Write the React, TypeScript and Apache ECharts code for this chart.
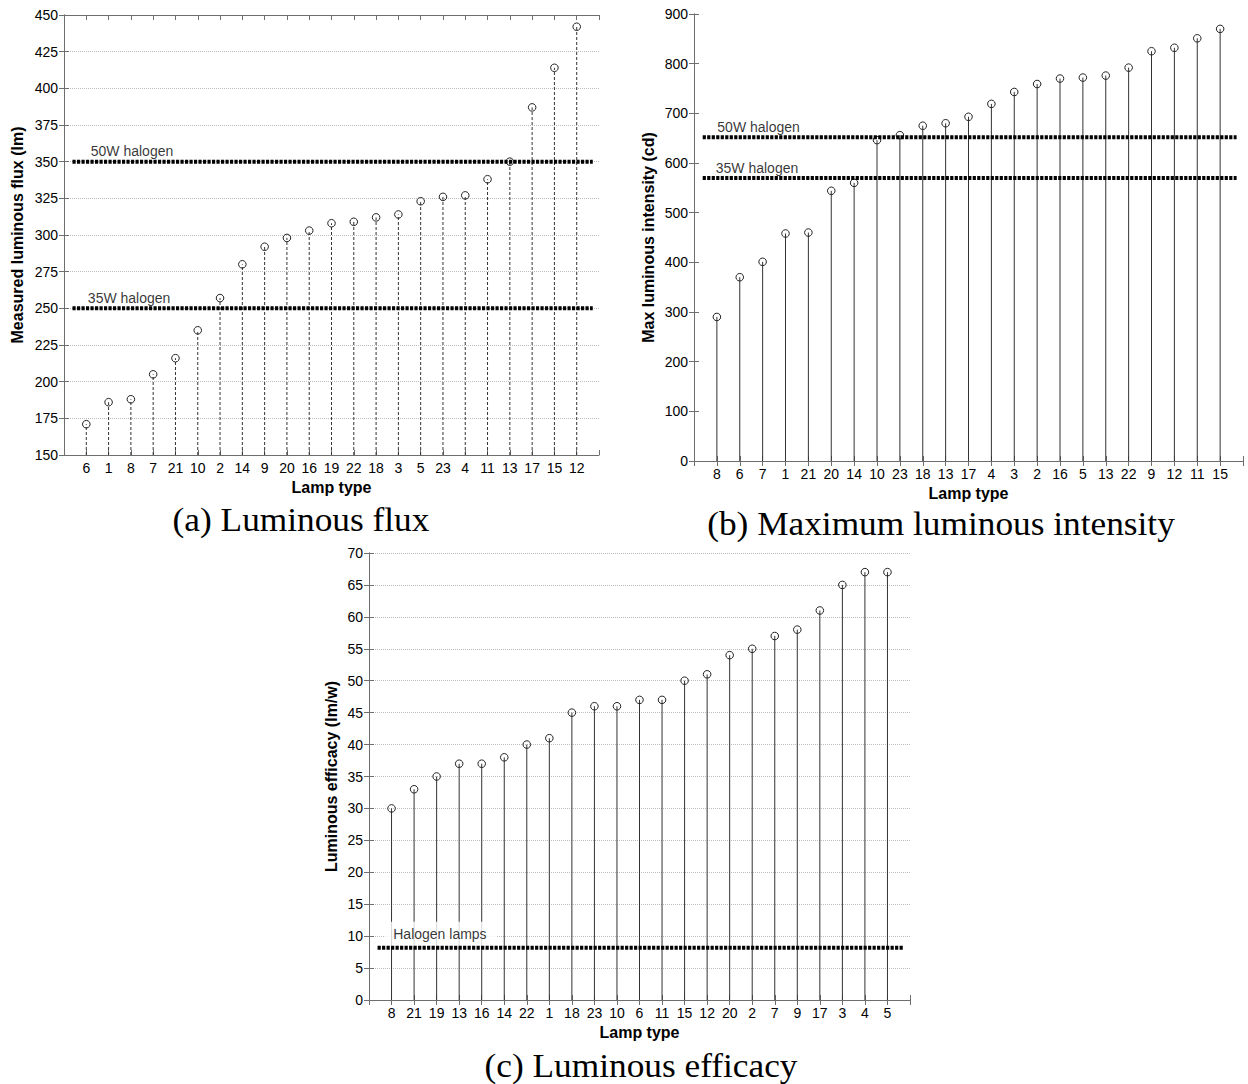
import React, { useEffect, useRef } from "react";
import * as echarts from "echarts";

// ---------- data ----------
const fluxCats = ["6","1","8","7","21","10","2","14","9","20","16","19","22","18","3","5","23","4","11","13","17","15","12"];
const fluxVals = [171,186,188,205,216,235,257,280,292,298,303,308,309,312,314,323,326,327,338,350,387,414,442];
const fluxRefs = [350, 250];
const fluxRefLabels = ["50W halogen", "35W halogen"];

const intensityCats = ["8","6","7","1","21","20","14","10","23","18","13","17","4","3","2","16","5","13","22","9","12","11","15"];
const intensityVals = [290,370,401,458,460,544,560,646,656,675,680,693,719,743,759,770,772,776,792,825,832,851,870];
const intensityRefs = [652, 570];
const intensityRefLabels = ["50W halogen", "35W halogen"];

const efficacyCats = ["8","21","19","13","16","14","22","1","18","23","10","6","11","15","12","20","2","7","9","17","3","4","5"];
const efficacyVals = [30,33,35,37,37,38,40,41,45,46,46,47,47,50,51,54,55,57,58,61,65,67,67];
const efficacyRefs = [8.2];
const efficacyRefLabels = ["Halogen lamps"];

const captions = ["(a) Luminous flux", "(b) Maximum luminous intensity", "(c) Luminous efficacy"];

// ---------- layout / style ----------
const FONT = "'Liberation Sans', Arial, Helvetica, sans-serif";
const SERIF = "'Liberation Serif', 'Times New Roman', serif";
const AXIS_COLOR = "#6e6e6e";

type Panel = {
  grid: { left: number; top: number; width: number; height: number };
  cats: string[];
  vals: number[];
  yMin: number;
  yMax: number;
  yInterval: number;
  yName: string;
  yNameGap: number;
  dashed: boolean;
  splitLines: boolean;
  refs: number[];
  refLabels: string[];
  refLabelAt: number[][]; // [x, y] in data space
  labelBg: boolean;
  caption: string;
  captionPos: number[];
};

const panels: Panel[] = [
  {
    grid: { left: 64, top: 15, width: 535, height: 440 },
    cats: fluxCats, vals: fluxVals, yMin: 150, yMax: 450, yInterval: 25,
    yName: "Measured luminous flux (lm)", yNameGap: 39,
    dashed: true, splitLines: true,
    refs: fluxRefs, refLabels: fluxRefLabels, refLabelAt: [[1.2, 357], [1.07, 257]],
    labelBg: false, caption: captions[0], captionPos: [301, 520],
  },
  {
    grid: { left: 694, top: 14, width: 549, height: 447 },
    cats: intensityCats, vals: intensityVals, yMin: 0, yMax: 900, yInterval: 100,
    yName: "Max luminous intensity (cd)", yNameGap: 38,
    dashed: false, splitLines: false,
    refs: intensityRefs, refLabels: intensityRefLabels, refLabelAt: [[1.02, 672], [0.95, 590]],
    labelBg: false, caption: captions[1], captionPos: [941, 524],
  },
  {
    grid: { left: 369, top: 553, width: 541, height: 447 },
    cats: efficacyCats, vals: efficacyVals, yMin: 0, yMax: 70, yInterval: 5,
    yName: "Luminous efficacy (lm/w)", yNameGap: 30,
    dashed: false, splitLines: true,
    refs: efficacyRefs, refLabels: efficacyRefLabels, refLabelAt: [[0.72, 10.3]],
    labelBg: true, caption: captions[2], captionPos: [641, 1066],
  },
];

const REF_X = [0.38, 23.72];

function stemRenderer(base: number, dashed: boolean) {
  return (params: any, api: any) => {
    const x = api.value(0);
    const y = api.value(1);
    const top = api.coord([x, y]);
    const bot = api.coord([x, base]);
    return {
      type: "group",
      children: [
        {
          type: "line",
          shape: { x1: top[0], y1: bot[1], x2: top[0], y2: top[1] },
          style: { stroke: "#333", lineWidth: 1, lineDash: dashed ? [3, 2] : null },
        },
        {
          type: "circle",
          shape: { cx: top[0], cy: top[1], r: 3.8 },
          style: { fill: "none", stroke: "#222", lineWidth: 1 },
        },
      ],
    };
  };
}

function buildOption() {
  const grids: any[] = [];
  const xAxes: any[] = [];
  const yAxes: any[] = [];
  const series: any[] = [];
  const graphics: any[] = [];

  panels.forEach((p, i) => {
    grids.push({ ...p.grid, outerBoundsMode: "none", containLabel: false });
    const tick = { show: true, inside: true, length: 5, lineStyle: { color: AXIS_COLOR, width: 1 } };
    const line = { show: true, lineStyle: { color: AXIS_COLOR, width: 1 } };
    const labelStyle = { color: "#000", fontSize: 14, fontFamily: FONT };
    const nameStyle = { color: "#000", fontSize: 16, fontWeight: "bold", fontFamily: FONT };

    xAxes.push({
      gridIndex: i, type: "value", position: "bottom", min: 0, max: 24, interval: 1,
      axisLine: line, axisTick: tick,
      axisLabel: {
        ...labelStyle, margin: 6,
        formatter: (v: number) => (v >= 1 && v <= p.cats.length ? p.cats[v - 1] : ""),
      },
      splitLine: { show: false },
      name: "Lamp type", nameLocation: "middle", nameGap: 24, nameTextStyle: nameStyle,
    });
    xAxes.push({
      gridIndex: i, type: "value", position: "top", min: 0, max: 24, interval: 1,
      axisLine: line, axisTick: tick, axisLabel: { show: false }, splitLine: { show: false },
    });
    yAxes.push({
      gridIndex: i, type: "value", position: "left", min: p.yMin, max: p.yMax, interval: p.yInterval,
      axisLine: line, axisTick: tick,
      axisLabel: { ...labelStyle, margin: 6 },
      splitLine: { show: p.splitLines, lineStyle: { type: "dotted", color: "#bdbdbd", width: 1 } },
      name: p.yName, nameLocation: "middle", nameGap: p.yNameGap, nameRotate: 90, nameTextStyle: nameStyle,
    });
    yAxes.push({
      gridIndex: i, type: "value", position: "right", min: p.yMin, max: p.yMax, interval: p.yInterval,
      axisLine: line, axisTick: tick, axisLabel: { show: false }, splitLine: { show: false },
    });

    const xi = i * 2;
    series.push({
      type: "custom",
      xAxisIndex: xi, yAxisIndex: xi,
      data: p.vals.map((v, k) => [k + 1, v]),
      encode: { x: 0, y: 1 },
      renderItem: stemRenderer(p.yMin, p.dashed),
      z: 2, silent: true,
    });
    p.refs.forEach((r) => {
      series.push({
        type: "line",
        xAxisIndex: xi, yAxisIndex: xi,
        data: [[REF_X[0], r], [REF_X[1], r]],
        symbol: "none",
        lineStyle: { color: "#000", width: 4, type: [3.2, 1.3], cap: "butt" },
        z: 5, silent: true,
      });
    });
    series.push({
      type: "scatter",
      xAxisIndex: xi, yAxisIndex: xi,
      symbol: "circle", symbolSize: 0,
      data: p.refLabels.map((t, k) => ({ name: t, value: p.refLabelAt[k] })),
      label: {
        show: true, position: "right", distance: 0, formatter: "{b}",
        color: "#000", fontSize: 14, fontFamily: FONT,
        backgroundColor: p.labelBg ? "#fff" : "transparent",
        padding: p.labelBg ? [5, 10, 6, 8] : 0,
      },
      z: 4, silent: true,
    });

    graphics.push({
      type: "text",
      x: p.captionPos[0], y: p.captionPos[1],
      scaleX: 1.07,
      style: {
        text: p.caption, fill: "#000", font: `33px ${SERIF}`,
        align: "center", verticalAlign: "middle",
      },
    });
  });

  return {
    animation: false,
    backgroundColor: "#fff",
    grid: grids,
    xAxis: xAxes,
    yAxis: yAxes,
    series,
    graphic: graphics,
  };
}

export default function App() {
  const ref = useRef<HTMLDivElement>(null);
  useEffect(() => {
    if (!ref.current) return;
    const chart = echarts.init(ref.current, undefined, { renderer: "svg" });
    chart.setOption(buildOption() as any);
    return () => chart.dispose();
  }, []);
  return (
    <div
      ref={ref}
      style={{ position: "absolute", left: 0, top: 0, width: 1248, height: 1084, background: "#fff" }}
    />
  );
}
